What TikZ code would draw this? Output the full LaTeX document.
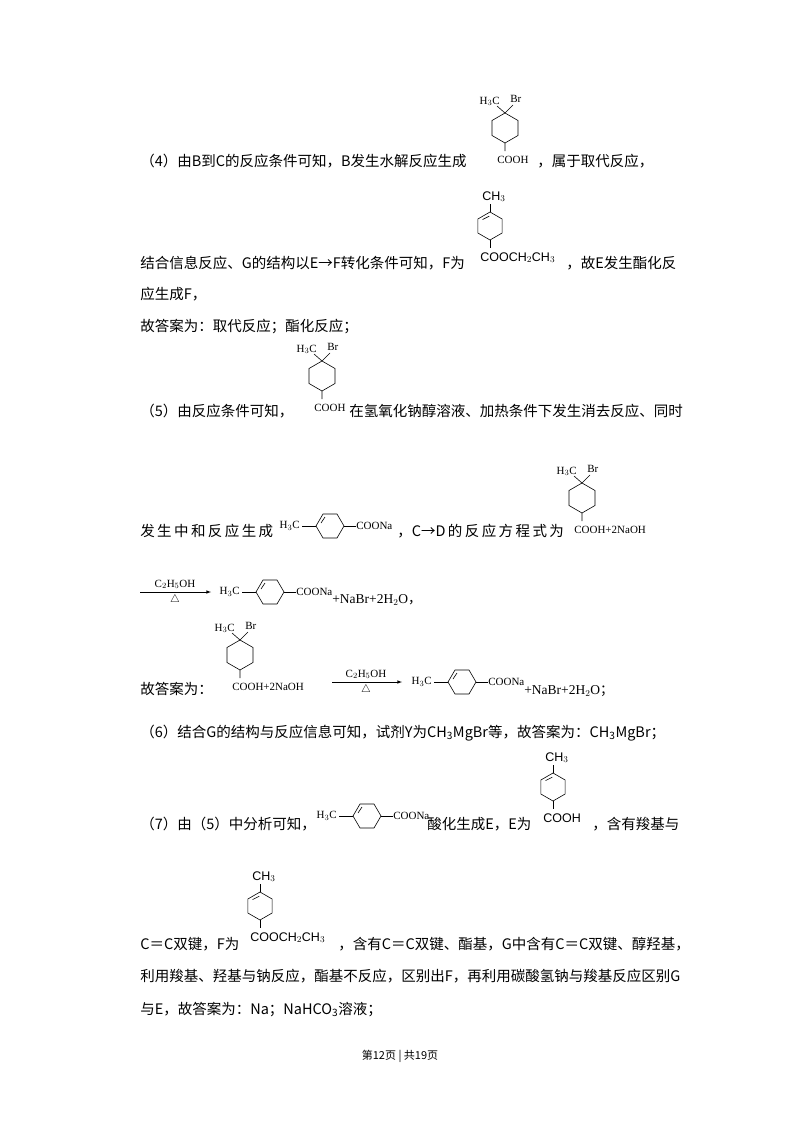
\documentclass[tikz,border=0pt]{standalone}
\usepackage{fontspec}
\setmainfont{Liberation Serif}
\newfontfamily\cjk{Noto Sans CJK SC}
\newfontfamily\chs{Liberation Sans}
\newcommand\vrg[3]{% x y r
\draw (#1,#2-#3)--(#1+0.866*#3,#2-0.5*#3)--(#1+0.866*#3,#2+0.5*#3)--(#1,#2+#3)--(#1-0.866*#3,#2+0.5*#3)--(#1-0.866*#3,#2-0.5*#3)--cycle;}
\newcommand\vdb[3]{% inner double bond upper-left
\draw ($(#1,#2-#3)!0.2!(#1-0.866*#3,#2-0.5*#3)+(0.12*#3,0.2*#3)$)--($(#1-0.866*#3,#2-0.5*#3)!0.2!(#1,#2-#3)+(0.16*#3,0.14*#3)$);}
\newcommand\brmol[3]{% x y center, text below
\vrg{#1}{#2}{15}
\draw (#1,#2-15)--(#1-8,#2-22) (#1,#2-15)--(#1+8,#2-23) (#1,#2+15)--(#1,#2+23);
\node[chem,anchor=base east] at (#1-5,#2-24) {H$_3$C};
\node[chem,anchor=base west] at (#1+5,#2-26) {Br};
\node[chem,anchor=base west] at (#1-8,#2+35) {#3};}
\newcommand\memol[3]{% CH3 ring (double) substituent
\vrg{#1}{#2}{14}\vdb{#1}{#2}{14}
\draw (#1,#2-14)--(#1,#2-22) (#1,#2+14)--(#1,#2+22);
\node[chs,anchor=base] at (#1+4,#2-26) {CH$_3$};
\node[chs,anchor=base west] at (#1-10,#2+35) {#3};}
\newcommand\hmol[2]{% x left, y center
\node[chem,anchor=east,inner sep=0] at (#1+24,#2) {H$_3$C};
\draw (#1+26,#2)--(#1+40,#2);
\draw (#1+40,#2)--(#1+47,#2-12)--(#1+61,#2-12)--(#1+68,#2)--(#1+61,#2+12)--(#1+47,#2+12)--cycle;
\draw (#1+45,#2-3)--(#1+49,#2-9);
\draw (#1+68,#2)--(#1+80,#2);
\node[chem,anchor=west,inner sep=0] at (#1+80,#2) {COONa};}
\usetikzlibrary{calc}
\tikzset{txt/.style={anchor=base west,inner sep=0,font=\cjk\fontsize{14.5}{16}\selectfont},
chem/.style={inner sep=0,font=\fontsize{11}{12}\selectfont},
chs/.style={inner sep=0,font=\chs\fontsize{12.5}{13}\selectfont},
rn/.style={inner sep=0,font=\fontsize{13.5}{15}\selectfont}}
\begin{document}
\begin{tikzpicture}[x=1pt,y=-1pt,line width=0.6pt]
\fill[white] (0,0) rectangle (800,1132);
% (4)
\node[txt] (l1) at (140,166) {（4）由B到C的反应条件可知，B发生水解反应生成};
\brmol{505}{128}{COOH}
\node[txt] (l1b) at (537,166) {，属于取代反应，};
\memol{490}{226}{COOCH$_2$CH$_3$}
\node[txt] (l2) at (140,268) {结合信息反应、G的结构以E→F转化条件可知，F为};
\node[txt] (l2b) at (566,268) {，故E发生酯化反};
\node[txt] (l3) at (140,299) {应生成F，};
\node[txt] (l4) at (140,331) {故答案为：取代反应；酯化反应；};
% (5)
\node[txt] (l5) at (140,416) {（5）由反应条件可知，};
\brmol{322}{376}{COOH}
\node[txt] (l5b) at (349,416) {在氢氧化钠醇溶液、加热条件下发生消去反应、同时};
\node[txt] (l6) at (140,536) {发\,生\,中\,和\,反\,应\,生\,成};
\hmol{276}{526}
\node[txt] (l6b) at (397,536) {，C→D\,的\,反\,应\,方\,程\,式\,为};
\brmol{582}{498}{COOH+2NaOH}
\coordinate (a1) at (140,592); \coordinate (a2) at (211,592);
\draw[-latex] (a1)--(a2);
\node[chem,anchor=south] at (175,589) {C$_2$H$_5$OH};
\node[chem,anchor=north] at (175,595) {$\triangle$};
\hmol{216}{592}
\node[rn,anchor=base west] at (332,603) {+NaBr+2H$_2$O{\cjk ，}};
% answer
\node[txt] (l8) at (140,694) {故答案为：};
\brmol{240}{655}{COOH+2NaOH}
\coordinate (b1) at (332,682); \coordinate (b2) at (402,682);
\draw[-latex] (b1)--(b2);
\node[chem,anchor=south] at (366,679) {C$_2$H$_5$OH};
\node[chem,anchor=north] at (366,685) {$\triangle$};
\hmol{408}{682}
\node[rn,anchor=base west] at (524,694) {+NaBr+2H$_2$O{\cjk ；}};
% (6)
\node[txt] (l9) at (140,737) {（6）结合G的结构与反应信息可知，试剂Y为CH\textsubscript{3}MgBr等，故答案为：CH\textsubscript{3}MgBr；};
% (7)
\node[txt] (l10) at (140,829) {（7）由（5）中分析可知，};
\hmol{313}{816}
\node[txt] (l10b) at (427,829) {酸化生成E，E为};
\memol{553}{787}{COOH}
\node[txt] (l10c) at (592,829) {，含有羧基与};
\node[txt] (l11) at (140,949) {C＝C双键，F为};
\memol{260}{906}{COOCH$_2$CH$_3$}
\node[txt] (l11b) at (338,949) {，含有C＝C双键、酯基，G中含有C＝C双键、醇羟基，};
\node[txt] (l12) at (140,981) {利用羧基、羟基与钠反应，酯基不反应，区别出F，再利用碳酸氢钠与羧基反应区别G};
\node[txt] (l13) at (140,1014) {与E，故答案为：Na；NaHCO\textsubscript{3}溶液；};
\node[inner sep=0,font=\cjk\fontsize{11}{12}\selectfont] (ft) at (400,1056) {第12页 | 共19页};
\end{tikzpicture}
\end{document}
